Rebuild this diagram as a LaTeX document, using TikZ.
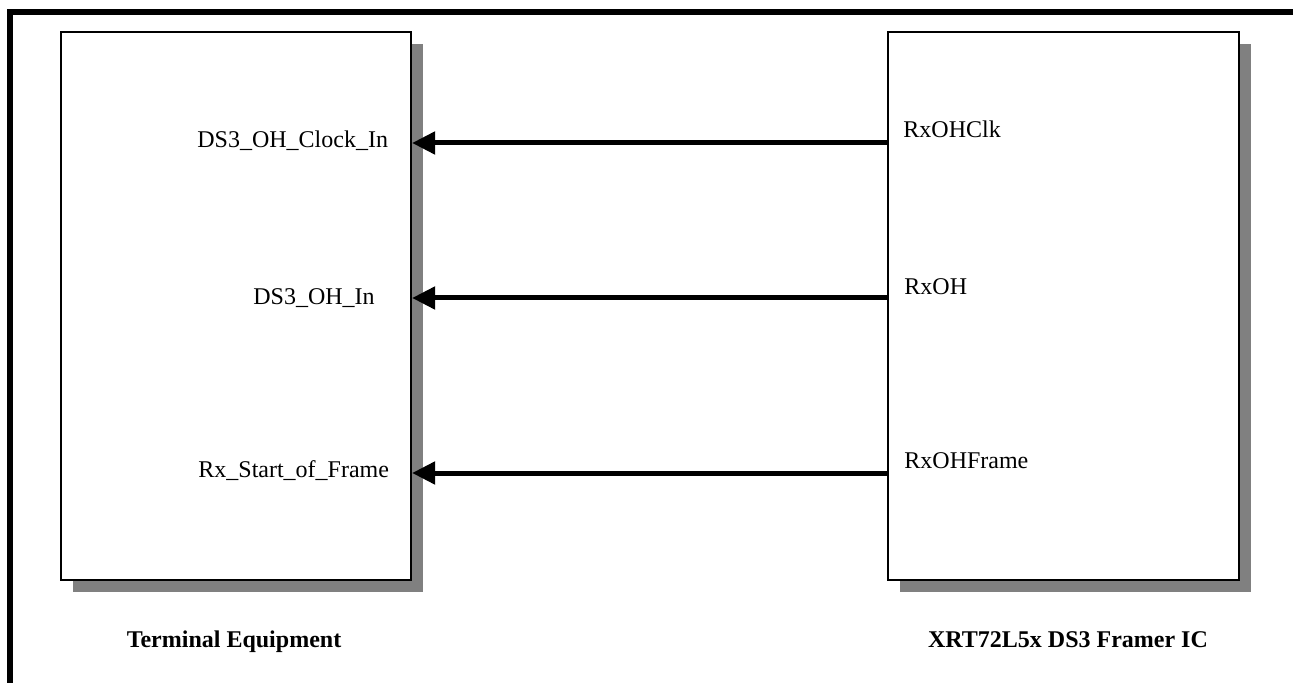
\documentclass[tikz,border=0pt]{standalone}
\usepackage{fontspec}
\setmainfont{Liberation Serif}
\usetikzlibrary{arrows.meta,positioning,shadows}

\begin{document}
\begin{tikzpicture}[
  x=0.5pt, y=-0.5pt,
  chip/.style={draw, line width=1.1pt, fill=white, minimum width=175pt, minimum height=274pt,
    inner sep=0pt, drop shadow={shadow xshift=6pt, shadow yshift=-6pt, fill=black!50, opacity=1}},
  pin/.style={inner sep=0pt, font=\fontsize{12}{14}\selectfont},
  title/.style={inner sep=0pt, font=\fontsize{12}{14}\selectfont\bfseries},
  sig/.style={-{Triangle[length=11.5pt, width=11pt]}, line width=2.5pt},
]
  \useasboundingbox (0,0) rectangle (1293,683);
  \draw[line width=3pt] (10,683) -- (10,12) -- (1293,12);

  % the two blocks
  \node[chip] (term) at (236,306) {};
  \node[chip, minimum width=175.5pt] (framer) at (1063.5,306) {};

  % pin names
  \node[pin, anchor=base west] (clkin) at (197,148) {DS3\_OH\_Clock\_In};
  \node[pin, anchor=base west] (ohin) at (253,305) {DS3\_OH\_In};
  \node[pin, anchor=base west] (sofin) at (198,477) {Rx\_Start\_of\_Frame};
  \node[pin, anchor=base west] (rxclk) at (903,138) {RxOHClk};
  \node[pin, anchor=base west] (rxoh) at (904,295) {RxOH};
  \node[pin, anchor=base west] (rxframe) at (904,468) {RxOHFrame};

  \node[title, anchor=base] (termlbl) at (234,647) {Terminal Equipment};
  \node[title, anchor=base] (framerlbl) at (1068,647) {XRT72L5x DS3 Framer IC};

  % overhead signals
  \draw[sig] (framer.west |- 0,143) -- (term.east |- 0,143);
  \draw[sig] (framer.west |- 0,298) -- (term.east |- 0,298);
  \draw[sig] (framer.west |- 0,473) -- (term.east |- 0,473);
\end{tikzpicture}
\end{document}
